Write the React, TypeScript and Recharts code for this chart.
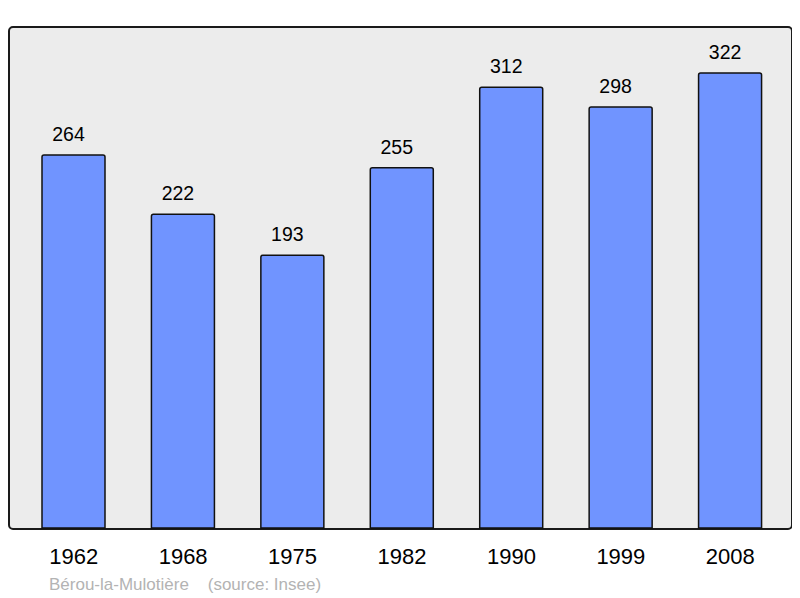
import React from "react";
import { BarChart, Bar, XAxis, YAxis, LabelList } from "recharts";

const years = ["1962", "1968", "1975", "1982", "1990", "1999", "2008"];
const population = [264, 222, 193, 255, 312, 298, 322];
const footer = "Bérou-la-Mulotière    (source: Insee)";

const data = years.map((y, i) => ({ year: y, pop: population[i] }));

const FONT = "'Liberation Sans', Arial, sans-serif";

export default function App() {
  return (
    <div style={{ position: "relative", width: 800, height: 606, margin: -8, fontFamily: FONT }}>
      <div
        style={{
          position: "absolute",
          left: 8,
          top: 26,
          width: 781,
          height: 500,
          background: "#ececec",
          border: "2px solid #1a1a1a",
          borderRadius: 5,
        }}
      />
      <div style={{ position: "absolute", left: 0, top: 0 }}>
        <BarChart
          width={800}
          height={598}
          data={data}
          margin={{ top: 27, right: 8, bottom: 0, left: 9 }}
        >
          <XAxis
            dataKey="year"
            axisLine={false}
            tickLine={false}
            tickSize={0}
            tickMargin={20}
            height={70}
            padding={{ left: 10, right: 7 }}
            tick={{ fontSize: 22, fill: "#000", fontFamily: FONT }}
            interval={0}
          />
          <YAxis hide domain={[0, 354.6]} />
          <Bar
            dataKey="pop"
            fill="#7094ff"
            stroke="#111"
            strokeWidth={1.5}
            barSize={63}
            radius={[2, 2, 0, 0]}
            isAnimationActive={false}
          >
            <LabelList
              dataKey="pop"
              position="top"
              offset={14}
              dx={-5}
              style={{ fontSize: 19.5, fill: "#000", fontFamily: FONT }}
            />
          </Bar>
        </BarChart>
      </div>
      <div
        style={{
          position: "absolute",
          left: 49,
          top: 576,
          fontSize: 17,
          lineHeight: "17px",
          color: "#b3b3b3",
          whiteSpace: "pre",
          fontFamily: FONT,
        }}
      >
        {footer}
      </div>
    </div>
  );
}
